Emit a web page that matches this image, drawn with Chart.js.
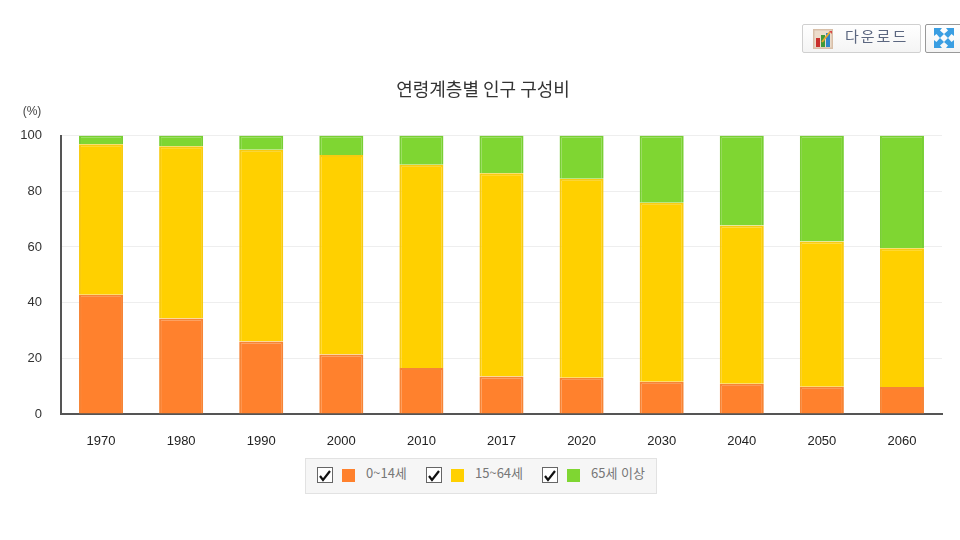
<!DOCTYPE html>
<html lang="ko">
<head>
<meta charset="utf-8">
<script src="https://cdn.jsdelivr.net/npm/chart.js@4/dist/chart.umd.min.js"></script>
<style>
html, body { margin: 0; width: 960px; height: 540px; overflow: hidden; background: #fff; }
#wrap { position: absolute; left: 0; top: 0; width: 966px; height: 540px; }
.btn { position: absolute; top: 24px; height: 29px; box-sizing: border-box; border: 1px solid #d0d0d0; background: linear-gradient(#fff, #f4f4f4); border-radius: 2px; }
#btnDown { left: 802px; width: 119px; font: 15px "Noto Sans CJK KR"; color: #5c6780; letter-spacing: 2px; line-height: 22px; padding-left: 42px; }
#btnDown svg { position: absolute; left: 10px; top: 4px; }
#btnFull { left: 925px; width: 40px; border-color: #999; }
#btnFull svg { position: absolute; left: 8px; top: 3px; }
#legend { position: absolute; left: 305px; top: 458px; width: 352px; height: 36px; box-sizing: border-box; border: 1px solid #e2e2e2; background: #f6f6f6; font: 13px "Noto Sans CJK KR"; color: #777; }
#legend .check { position: absolute; top: 8px; width: 14px; height: 14px; border: 1px solid #666; background: #fff; }
#legend .swatch { position: absolute; top: 10px; width: 13px; height: 13px; }
#legend .name { position: absolute; top: 5px; line-height: 18px; white-space: nowrap; }
</style>
</head>
<body>
<div id="wrap"><canvas id="chart"></canvas></div>
<div class="btn" id="btnDown">
  <svg width="20" height="20" viewBox="0 0 20 20"><rect width="20" height="20" fill="#d8bfa8"/><rect x="1.5" y="1.5" width="17" height="17" fill="#ecdccb"/><rect x="3" y="9" width="4" height="9" fill="#c9302c"/><rect x="8" y="6" width="4" height="12" fill="#3f9a3a"/><rect x="13" y="4" width="4" height="14" fill="#2e84c8"/><path d="M9 13L17 3" stroke="#e8a52c" stroke-width="2"/><path d="M16 2l3 0 0 3z" fill="#d8484a"/></svg>
  다운로드
</div>
<div class="btn" id="btnFull">
  <svg width="20" height="20" viewBox="0 0 20 20" fill="#3a9ee2"><path d="M0 0h8L6 2.5 10 6 6 10 2.5 6 0 8z"/><path d="M20 0h-8l2 2.5L10 6l4 4 3.500-4L20 8z"/><path d="M0 20h8l-2-2.500L10 14l-4-4-3.500 4L0 12z"/><path d="M20 20h-8l2-2.500L10 14l4-4 3.500 4 2.500-2z"/></svg>
</div>
<div id="legend"></div>
<script>
const categories = ['1970', '1980', '1990', '2000', '2010', '2017', '2020', '2030', '2040', '2050', '2060'];
const youth = [42.8, 34.3, 26.0, 21.4, 16.5, 13.5, 13.0, 11.6, 10.9, 9.8, 9.7];
const working = [54.1, 61.9, 68.9, 71.6, 73.0, 73.0, 71.5, 64.3, 56.8, 52.2, 49.8];
const elderly = [3.1, 3.8, 5.1, 7.0, 10.5, 13.5, 15.5, 24.1, 32.3, 38.0, 40.5];
const seriesNames = ['0~14세', '15~64세', '65세 이상'];
const seriesColors = ['#ff812d', '#ffd000', '#7fd632'];
const seriesEdges = ['#f68435', '#f8cb10', '#78cf34'];
const yTicks = [0, 20, 40, 60, 80, 100];

const tickFont = { family: '"Liberation Sans", Arial, sans-serif', size: 13 };

// unit label above the y axis, and the title nudged to where the original has it
const unitLabel = {
  id: 'unitLabel',
  afterLayout(chart) {
    chart.titleBlock.left = 24;
  },
  afterDraw(chart) {
    const ctx = chart.ctx;
    ctx.save();
    ctx.font = '12px "Liberation Sans"';
    ctx.fillStyle = '#444';
    ctx.textAlign = 'center';
    ctx.textBaseline = 'middle';
    ctx.fillText('(%)', 32, 112);
    ctx.restore();
  }
};

new Chart(document.getElementById('chart'), {
  type: 'bar',
  plugins: [unitLabel],
  data: {
    labels: categories,
    datasets: [youth, working, elderly].map((values, i) => ({
      label: seriesNames[i],
      data: values,
      backgroundColor: seriesColors[i],
      borderColor: seriesEdges[i],
      borderWidth: 2,
      categoryPercentage: 1,
      barPercentage: 0.55,
    })),
  },
  options: {
    responsive: true,
    maintainAspectRatio: false,
    animation: false,
    layout: { padding: { top: 0, right: 24, bottom: 0, left: 0 } },
    plugins: {
      legend: { display: false },
      tooltip: { enabled: false },
      title: {
        display: true,
        text: '연령계층별 인구 구성비',
        color: '#333',
        font: { family: '"Noto Sans CJK KR"', size: 18, weight: 'normal' },
        padding: { top: 78, bottom: 36 },
      },
    },
    scales: {
      x: {
        stacked: true,
        grid: { display: false, drawTicks: false },
        border: { color: '#555', width: 2 },
        ticks: { color: '#222', font: tickFont, padding: 20, maxRotation: 0 },
        afterFit: s => { s.height = 126; },
      },
      y: {
        stacked: true,
        min: 0,
        max: 100,
        afterBuildTicks: s => { s.ticks = yTicks.map(value => ({ value })); },
        grid: { color: '#eeeeee', drawTicks: false },
        border: { color: '#555', width: 2 },
        ticks: { color: '#333', font: tickFont, padding: 19 },
        afterFit: s => { s.width = 61; },
      },
    },
  },
});

// html legend with the checkboxes, as in the original page
const checkX = [11, 120, 236];
const legendEl = document.getElementById('legend');
seriesNames.forEach((name, i) => {
  const x = checkX[i];
  legendEl.insertAdjacentHTML('beforeend', `
    <div class="check" style="left:${x}px"><svg width="14" height="14" viewBox="0 0 14 14"><path d="M2 7l3 4 7-9" fill="none" stroke="#111" stroke-width="2.2"/></svg></div>
    <div class="swatch" style="left:${x + 25}px;background:${seriesColors[i]}"></div>
    <div class="name" style="left:${x + 49}px">${name}</div>`);
});
</script>
</body>
</html>
